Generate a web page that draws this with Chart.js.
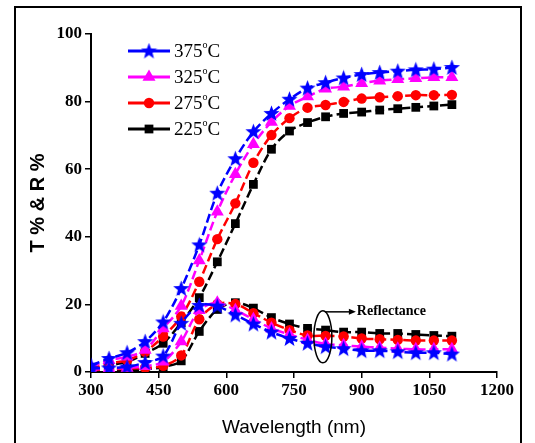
<!DOCTYPE html>
<html>
<head>
<meta charset="utf-8">
<script src="https://cdn.jsdelivr.net/npm/chart.js@4.4.0/dist/chart.umd.min.js"></script>
<style>
  html, body { margin: 0; background: #fff; }
</style>
</head>
<body>
<canvas id="chart" width="535" height="443"></canvas>
<script>
const wavelengths = [300, 340, 380, 420, 460, 500, 540, 580, 620, 660, 700, 740, 780, 820, 860, 900, 940, 980, 1020, 1060, 1100];
const tempLabels = ["375", "325", "275", "225"];

// transmittance
const trans375 = [2, 4, 5.7, 9, 14.8, 24.7, 37.6, 52.9, 63.1, 71.1, 76.5, 80.7, 84, 85.6, 87, 88, 88.6, 89, 89.4, 89.6, 90.1];
const trans325 = [1.5, 3.5, 4.5, 6.5, 12.9, 19.5, 33, 47.4, 58.5, 67.4, 74, 78.7, 81.5, 83.8, 84.4, 85.4, 86.2, 86.6, 86.9, 87.2, 87.2];
const trans275 = [1, 2.5, 3.5, 6, 10.5, 16.4, 26.7, 39.3, 49.9, 61.9, 70.1, 75.1, 78.2, 79, 79.9, 80.9, 81.3, 81.6, 81.9, 81.9, 82];
const trans225 = [0.5, 2, 3, 5.5, 8.5, 14.6, 22, 32.6, 43.9, 55.5, 65.9, 71.3, 73.8, 75.5, 76.5, 76.9, 77.5, 77.9, 78.3, 78.7, 79.1];

// reflectance
const refl375 = [1, 1.2, 1.5, 2.8, 4.7, 14.4, 19.7, 19.5, 16.9, 14.2, 11.8, 9.9, 8.5, 7.5, 6.9, 6.3, 6.3, 6, 5.7, 5.7, 5.3];
const refl325 = [0.7, 1, 1.2, 1.7, 3, 9, 18.3, 20.5, 18.3, 15.6, 12.9, 11.1, 9.5, 8.3, 7.9, 7.5, 7.2, 6.9, 6.7, 6.7, 6.7];
const refl275 = [0.5, 0.8, 1, 1.2, 1.8, 4.9, 15.6, 20.1, 20.1, 17.4, 14.6, 12.4, 10.8, 10.7, 10.5, 9.9, 9.7, 9.5, 9.3, 9.3, 9.3];
const refl225 = [0.2, 0.3, 0.5, 0.8, 1.5, 3.3, 12, 18.5, 20.5, 18.9, 16.1, 14.2, 12.9, 12.4, 11.8, 11.8, 11.4, 11.4, 11.1, 10.8, 10.6];

const xTicks = [300, 450, 600, 750, 900, 1050, 1200];
const yTicks = [0, 20, 40, 60, 80, 100];

// filled five-point star, Chart.js 'star' is only an asterisk
function makeStar(color, size) {
  const c = document.createElement('canvas');
  c.width = size; c.height = size;
  const g = c.getContext('2d');
  const cx = size / 2, cy = size / 2 + 0.5, ro = size / 2, ri = ro * 0.42;
  g.beginPath();
  for (let i = 0; i < 10; i++) {
    const r = i % 2 ? ri : ro;
    const a = -Math.PI / 2 + i * Math.PI / 5;
    g.lineTo(cx + r * Math.cos(a), cy + r * Math.sin(a));
  }
  g.closePath();
  g.fillStyle = color;
  g.fill();
  return c;
}

const styles = [
  { color: '#0000ff', point: makeStar('#0000ff', 17), radius: 8 },
  { color: '#ff00ff', point: 'triangle', radius: 7.5 },
  { color: '#ff0000', point: 'circle', radius: 5.2 },
  { color: '#000000', point: 'rect', radius: 6.2 }
];

const transSeries = [trans375, trans325, trans275, trans225];
const reflSeries = [refl375, refl325, refl275, refl225];

function toPoints(arr) {
  return wavelengths.map((w, i) => ({ x: w, y: arr[i] }));
}

function makeDataset(label, arr, st) {
  return {
    label,
    data: toPoints(arr),
    borderColor: st.color,
    backgroundColor: st.color,
    pointStyle: st.point,
    pointRadius: st.radius,
    pointBorderWidth: 0,
    borderWidth: 2.5,
    borderDash: [9, 4],
    tension: 0.3,
    fill: false
  };
}

const datasets = [];
tempLabels.forEach((t, i) => {
  datasets.push(makeDataset(t + ' T', transSeries[i], styles[i]));
  datasets.push(makeDataset(t + ' R', reflSeries[i], styles[i]));
});

const decorPlugin = {
  id: 'decor',
  afterDraw(chart) {
    const ctx = chart.ctx;
    const xs = chart.scales.x, ys = chart.scales.y;
    ctx.save();

    // outer frame
    ctx.strokeStyle = '#000';
    ctx.lineWidth = 2;
    ctx.strokeRect(15, 7, 506, 460);

    // legend
    tempLabels.forEach((t, i) => {
      const st = styles[i];
      const y = 51 + i * 26;
      ctx.strokeStyle = st.color;
      ctx.lineWidth = 3;
      ctx.setLineDash([]);
      ctx.beginPath();
      ctx.moveTo(128, y);
      ctx.lineTo(170, y);
      ctx.stroke();
      ctx.fillStyle = st.color;
      Chart.helpers.drawPoint(ctx, { pointStyle: st.point, radius: st.radius, rotation: 0, borderWidth: 0 }, 149, y);
      ctx.fillStyle = '#000';
      ctx.textBaseline = 'middle';
      ctx.font = '19px "Liberation Serif"';
      ctx.fillText(t, 174, y + 1);
      const w = ctx.measureText(t).width;
      ctx.font = '10px "Liberation Serif"';
      ctx.fillText('o', 174 + w, y - 6);
      ctx.font = '19px "Liberation Serif"';
      ctx.fillText('C', 174 + w + 5, y + 1);
    });

    // reflectance marker: ellipse + arrow + label
    const ex = xs.getPixelForValue(814), ey = ys.getPixelForValue(10.4);
    ctx.strokeStyle = '#000';
    ctx.lineWidth = 1.5;
    ctx.beginPath();
    ctx.ellipse(ex, ey, 9, 26, 0, 0, Math.PI * 2);
    ctx.stroke();
    const ay = ey - 25;
    ctx.beginPath();
    ctx.moveTo(ex + 2, ay);
    ctx.lineTo(ex + 28, ay);
    ctx.stroke();
    ctx.beginPath();
    ctx.moveTo(ex + 33, ay);
    ctx.lineTo(ex + 26, ay - 3);
    ctx.lineTo(ex + 26, ay + 3);
    ctx.closePath();
    ctx.fillStyle = '#000';
    ctx.fill();
    ctx.font = 'bold 14px "Liberation Serif"';
    ctx.textBaseline = 'middle';
    ctx.fillText('Reflectance', ex + 34, ay);
    ctx.restore();
  }
};

new Chart(document.getElementById('chart'), {
  type: 'line',
  data: { datasets },
  plugins: [decorPlugin],
  options: {
    responsive: false,
    animation: false,
    layout: { padding: { left: 0, top: 34, right: 38, bottom: 0 } },
    plugins: { legend: { display: false }, tooltip: { enabled: false } },
    scales: {
      x: {
        type: 'linear',
        min: 300, max: 1200,
        afterBuildTicks: s => { s.ticks = xTicks.map(v => ({ value: v })); },
        afterFit: s => { s.height = 71; },
        grid: { drawOnChartArea: false, drawTicks: true, tickLength: 6, color: '#000', lineWidth: 1.5 },
        border: { display: true, color: '#000', width: 2 },
        ticks: { color: '#000', padding: 2, maxRotation: 0, callback: v => String(v), font: { family: 'Liberation Serif', size: 17, weight: 'bold' } },
        title: { display: true, text: 'Wavelength (nm)', color: '#000', padding: { top: 1 }, font: { family: 'Liberation Sans', size: 19 } }
      },
      y: {
        min: 0, max: 100,
        afterBuildTicks: s => { s.ticks = yTicks.map(v => ({ value: v })); },
        afterFit: s => { s.width = 91; },
        grid: { drawOnChartArea: false, drawTicks: true, tickLength: 6, color: '#000', lineWidth: 1.5 },
        border: { display: true, color: '#000', width: 2 },
        ticks: { color: '#000', padding: 3, callback: v => String(v), font: { family: 'Liberation Serif', size: 17, weight: 'bold' } },
        title: { display: true, text: 'T % & R %', color: '#000', padding: { top: 26, bottom: 0 }, font: { family: 'Liberation Sans', size: 20, weight: 'bold' } }
      }
    }
  }
});
</script>
</body>
</html>
